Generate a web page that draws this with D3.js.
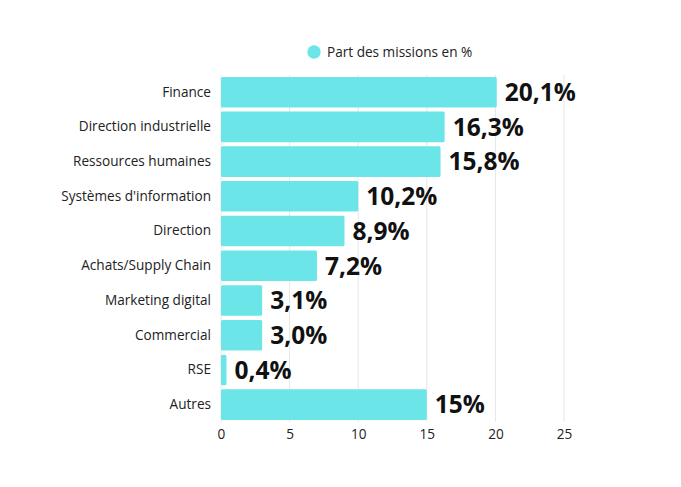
<!DOCTYPE html>
<html><head><meta charset="utf-8">
<script src="https://cdn.jsdelivr.net/npm/d3@7"></script>
<style>body{margin:0;background:#fff;font-family:"Open Sans",sans-serif;}</style>
</head><body>
<svg id="c" width="681" height="487"></svg>
<script>
const categories = ["Finance","Direction industrielle","Ressources humaines","Systèmes d'information","Direction","Achats/Supply Chain","Marketing digital","Commercial","RSE","Autres"];
// bar lengths as drawn in the picture
const values = [20.1,16.3,16,10,9,7,3,3,0.4,15];
const valueLabels = ["20,1%","16,3%","15,8%","10,2%","8,9%","7,2%","3,1%","3,0%","0,4%","15%"];
const xTicks = [0,5,10,15,20,25];
const seriesName = "Part des missions en %";
const color = "#6be5e8";

const svg = d3.select("#c");
const x = d3.scaleLinear().domain([0,25]).range([221,564]);
const y = d3.scaleBand().domain(categories).range([74.8,422]).paddingInner(0.12).paddingOuter(0.06);

// gridlines
svg.append("g").selectAll("line").data(xTicks).join("line")
  .attr("x1",d=>x(d)).attr("x2",d=>x(d)).attr("y1",y.range()[0]).attr("y2",y.range()[1])
  .attr("stroke","#e6e6e6").attr("stroke-width",1);

// bars
svg.append("g").selectAll("rect").data(categories).join("rect")
  .attr("x",x(0)).attr("y",d=>y(d)).attr("width",(d,i)=>x(values[i])-x(0)).attr("height",y.bandwidth())
  .attr("rx",1.5).attr("fill",color);

// value labels
svg.append("g").selectAll("text").data(categories).join("text")
  .attr("x",(d,i)=>x(values[i])+8).attr("y",d=>y(d)+y.bandwidth()/2).attr("dy","0.36em")
  .attr("font-size",24.5).attr("font-weight",700).attr("fill","#111")
  .text((d,i)=>valueLabels[i]);

// category labels
const yAxis = d3.axisLeft(y).tickSize(0).tickPadding(10);
const gy = svg.append("g").attr("transform",`translate(${x(0)},0)`).call(yAxis);
gy.select(".domain").remove();
gy.selectAll("text").attr("font-family","Open Sans").attr("font-size",13.6).attr("fill","#222");

// x axis
const xAxis = d3.axisBottom(x).tickValues(xTicks).tickSize(0).tickPadding(7).tickFormat(d3.format("d"));
const gx = svg.append("g").attr("transform",`translate(0,${y.range()[1]})`).call(xAxis);
gx.select(".domain").remove();
gx.selectAll("text").attr("font-family","Open Sans").attr("font-size",13.6).attr("fill","#222");

// legend
const lg = svg.append("g").attr("transform","translate(314,52)");
lg.append("circle").attr("r",6.7).attr("fill",color);
lg.append("text").attr("x",13).attr("dy","0.35em").attr("font-size",13.6).attr("fill","#222").text(seriesName);
</script>
</body></html>
